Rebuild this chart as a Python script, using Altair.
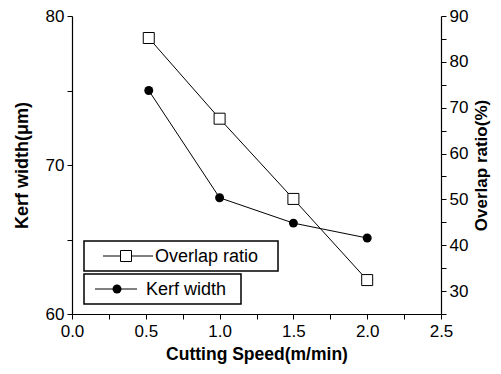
import altair as alt
import pandas as pd

speed = [0.52, 1.0, 1.5, 2.0]
kerf = [75.0, 67.8, 66.1, 65.1]
overlap = [85.2, 67.6, 50.1, 32.4]

x_ticks = [0, 0.25, 0.5, 0.75, 1.0, 1.25, 1.5, 1.75, 2.0, 2.25, 2.5]
left_ticks = [60, 65, 70, 75, 80]
right_ticks = [25, 30, 35, 40, 45, 50, 55, 60, 65, 70, 75, 80, 85, 90]

df = pd.DataFrame({"speed": speed, "kerf": kerf, "overlap": overlap})

FONT = "Liberation Sans"

x_axis = alt.Axis(
    title="Cutting Speed(m/min)", values=x_ticks,
    labelExpr="(round(datum.value*100) % 50 == 0) ? format(datum.value, '.1f') : ''",
    labelFlush=False, labelOverlap=False, labelPadding=4, titlePadding=6, titleFontSize=17.5,
)
xenc = alt.X("speed:Q", scale=alt.Scale(domain=[0, 2.5], nice=False, zero=False), axis=x_axis)

left_axis = alt.Axis(
    title="Kerf width(\u03bcm)", values=left_ticks, orient="left",
    labelExpr="datum.value % 10 == 0 ? datum.label : ''",
    labelOverlap=False, titlePadding=14, titleAngle=270, titleFontSize=18,
)
right_axis = alt.Axis(
    title="Overlap ratio(%)", values=right_ticks, orient="right",
    labelExpr="datum.value % 10 == 0 ? datum.label : ''",
    labelOverlap=False, titlePadding=6, titleAngle=270, titleBaseline="top", titleFontSize=17,
)

base = alt.Chart(df)

yk = alt.Y("kerf:Q", scale=alt.Scale(domain=[60, 80], nice=False, zero=False), axis=left_axis)
kerf_line = base.mark_line(color="black", strokeWidth=1).encode(x=xenc, y=yk)
kerf_pts = base.mark_point(shape="circle", size=80, filled=True, color="black", opacity=1).encode(x=xenc, y=yk)
kerf_layer = alt.layer(kerf_line, kerf_pts)

yo = alt.Y("overlap:Q", scale=alt.Scale(domain=[25, 90], nice=False, zero=False), axis=right_axis)
ov_line = base.mark_line(color="black", strokeWidth=1).encode(x=xenc, y=yo)
ov_pts = base.mark_point(shape="square", size=121, filled=True, fill="white", stroke="black",
                         strokeWidth=1, opacity=1).encode(x=xenc, y=yo)
ov_layer = alt.layer(ov_line, ov_pts)

# legend decoration
leg = alt.Chart(pd.DataFrame({"a": [0]}))
box1 = leg.mark_rect(fill="white", stroke="black", strokeWidth=1.5).encode(
    x=alt.value(12), x2=alt.value(206), y=alt.value(225), y2=alt.value(255))
box2 = leg.mark_rect(fill="white", stroke="black", strokeWidth=1.5).encode(
    x=alt.value(12), x2=alt.value(169), y=alt.value(258), y2=alt.value(288))
sym1 = leg.mark_rule(color="black", strokeWidth=1).encode(
    x=alt.value(31), x2=alt.value(81), y=alt.value(240))
sq1 = leg.mark_point(shape="square", size=121, filled=True, fill="white", stroke="black",
                     strokeWidth=1, opacity=1).encode(x=alt.value(54), y=alt.value(240))
txt1 = leg.mark_text(align="left", baseline="middle", fontSize=18, font=FONT, color="black").encode(
    x=alt.value(83), y=alt.value(241), text=alt.value("Overlap ratio"))
sym2 = leg.mark_rule(color="black", strokeWidth=1).encode(
    x=alt.value(23), x2=alt.value(65), y=alt.value(273))
c2 = leg.mark_point(shape="circle", size=80, filled=True, color="black", opacity=1).encode(
    x=alt.value(45), y=alt.value(273))
txt2 = leg.mark_text(align="left", baseline="middle", fontSize=18, font=FONT, color="black").encode(
    x=alt.value(74), y=alt.value(274), text=alt.value("Kerf width"))

chart = alt.layer(
    kerf_layer, ov_layer, box1, box2, sym1, sq1, txt1, sym2, c2, txt2
).resolve_scale(y="independent").properties(
    width=369, height=298,
    autosize=alt.AutoSizeParams(type="none"),
    padding={"left": 64, "top": 8, "right": 52, "bottom": 52},
).configure_view(stroke=None).configure_axis(
    grid=False, domainColor="black", domainWidth=1.2, tickColor="black", tickSize=5,
    labelColor="black", labelFont=FONT, labelFontSize=17, labelPadding=3,
    titleColor="black", titleFont=FONT, titleFontWeight="bold",
)

chart.save("out.html", embed_options={"renderer": "svg", "actions": False})
